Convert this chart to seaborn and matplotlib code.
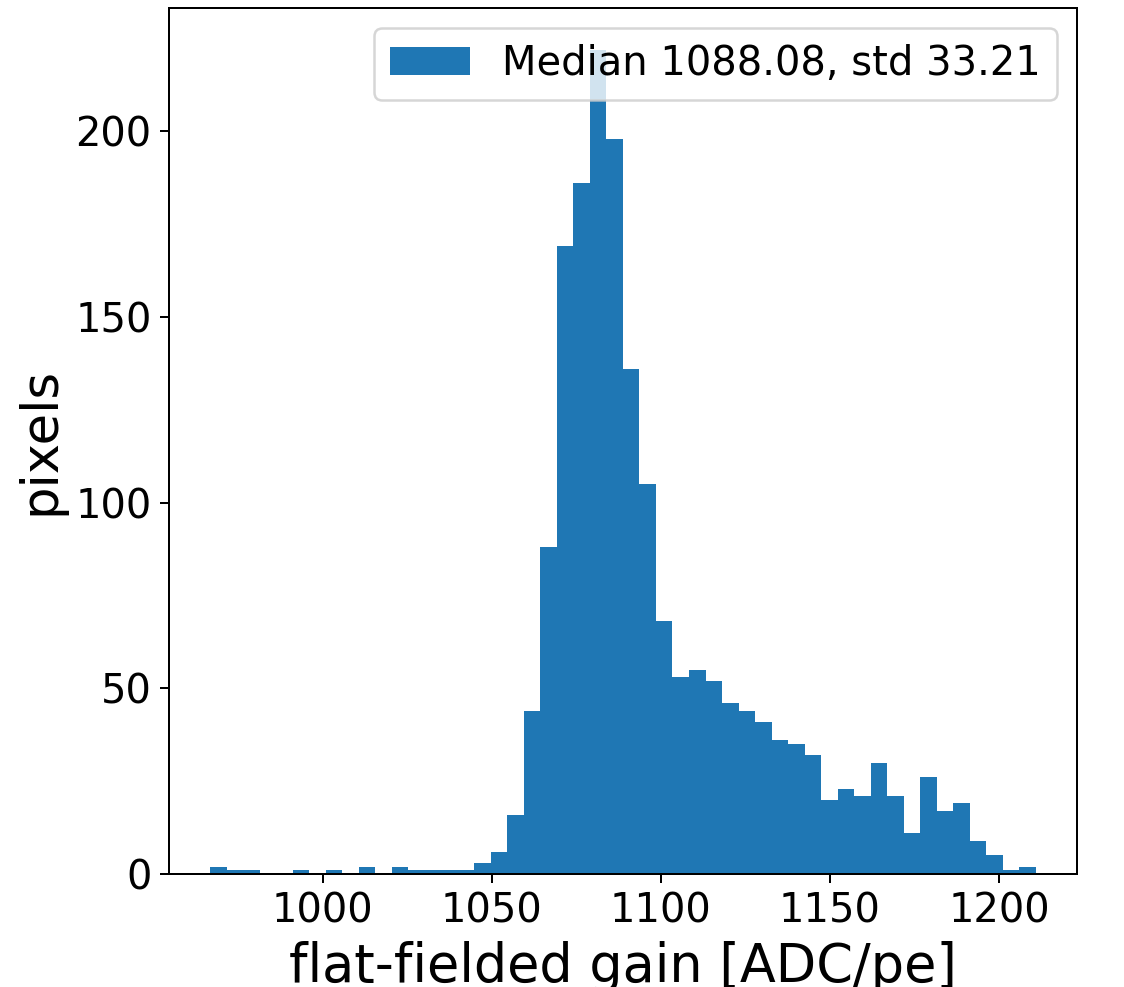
import numpy as np
import pandas as pd
import seaborn as sns
import matplotlib.pyplot as plt

plt.rcParams['font.family'] = ['DejaVu Sans']

# flat-fielded gain histogram, 50 bins between the min and max gain
gain_min = 966.8
gain_max = 1210.8
pixel_counts = [2, 1, 1, 0, 0, 1, 0, 1, 0, 2,
                0, 2, 1, 1, 1, 1, 3, 6, 16, 44,
                88, 169, 186, 222, 198, 136, 105, 68, 53, 55,
                52, 46, 44, 41, 36, 35, 32, 20, 23, 21,
                30, 21, 11, 26, 17, 19, 9, 5, 1, 2]
legend_label = 'Median 1088.08, std 33.21'

edges = np.linspace(gain_min, gain_max, len(pixel_counts) + 1)
df = pd.DataFrame({'gain': 0.5 * (edges[:-1] + edges[1:]),
                   'pixels': pixel_counts})

dpi = 180
fig = plt.figure(figsize=(1124 / dpi, 987 / dpi), dpi=dpi)
ax = fig.add_axes([0.1504, 0.1145, 0.8077, 0.877])

sns.histplot(data=df, x='gain', weights='pixels', bins=list(edges), ax=ax,
             color='#1f77b4', alpha=1, linewidth=0)
ax.set_ylim(0, max(pixel_counts) * 1.05)
ax.set_xlim(gain_min - 0.05 * (gain_max - gain_min),
            gain_max + 0.05 * (gain_max - gain_min))

ax.tick_params(labelsize=16)
ax.set_xlabel('flat-fielded gain [ADC/pe]', fontsize=21)
ax.set_ylabel('pixels', fontsize=20.5)
ax.legend(handles=[ax.patches[0]], labels=[legend_label],
          loc='upper right', fontsize=16)

fig.savefig('out.png', dpi=dpi)
